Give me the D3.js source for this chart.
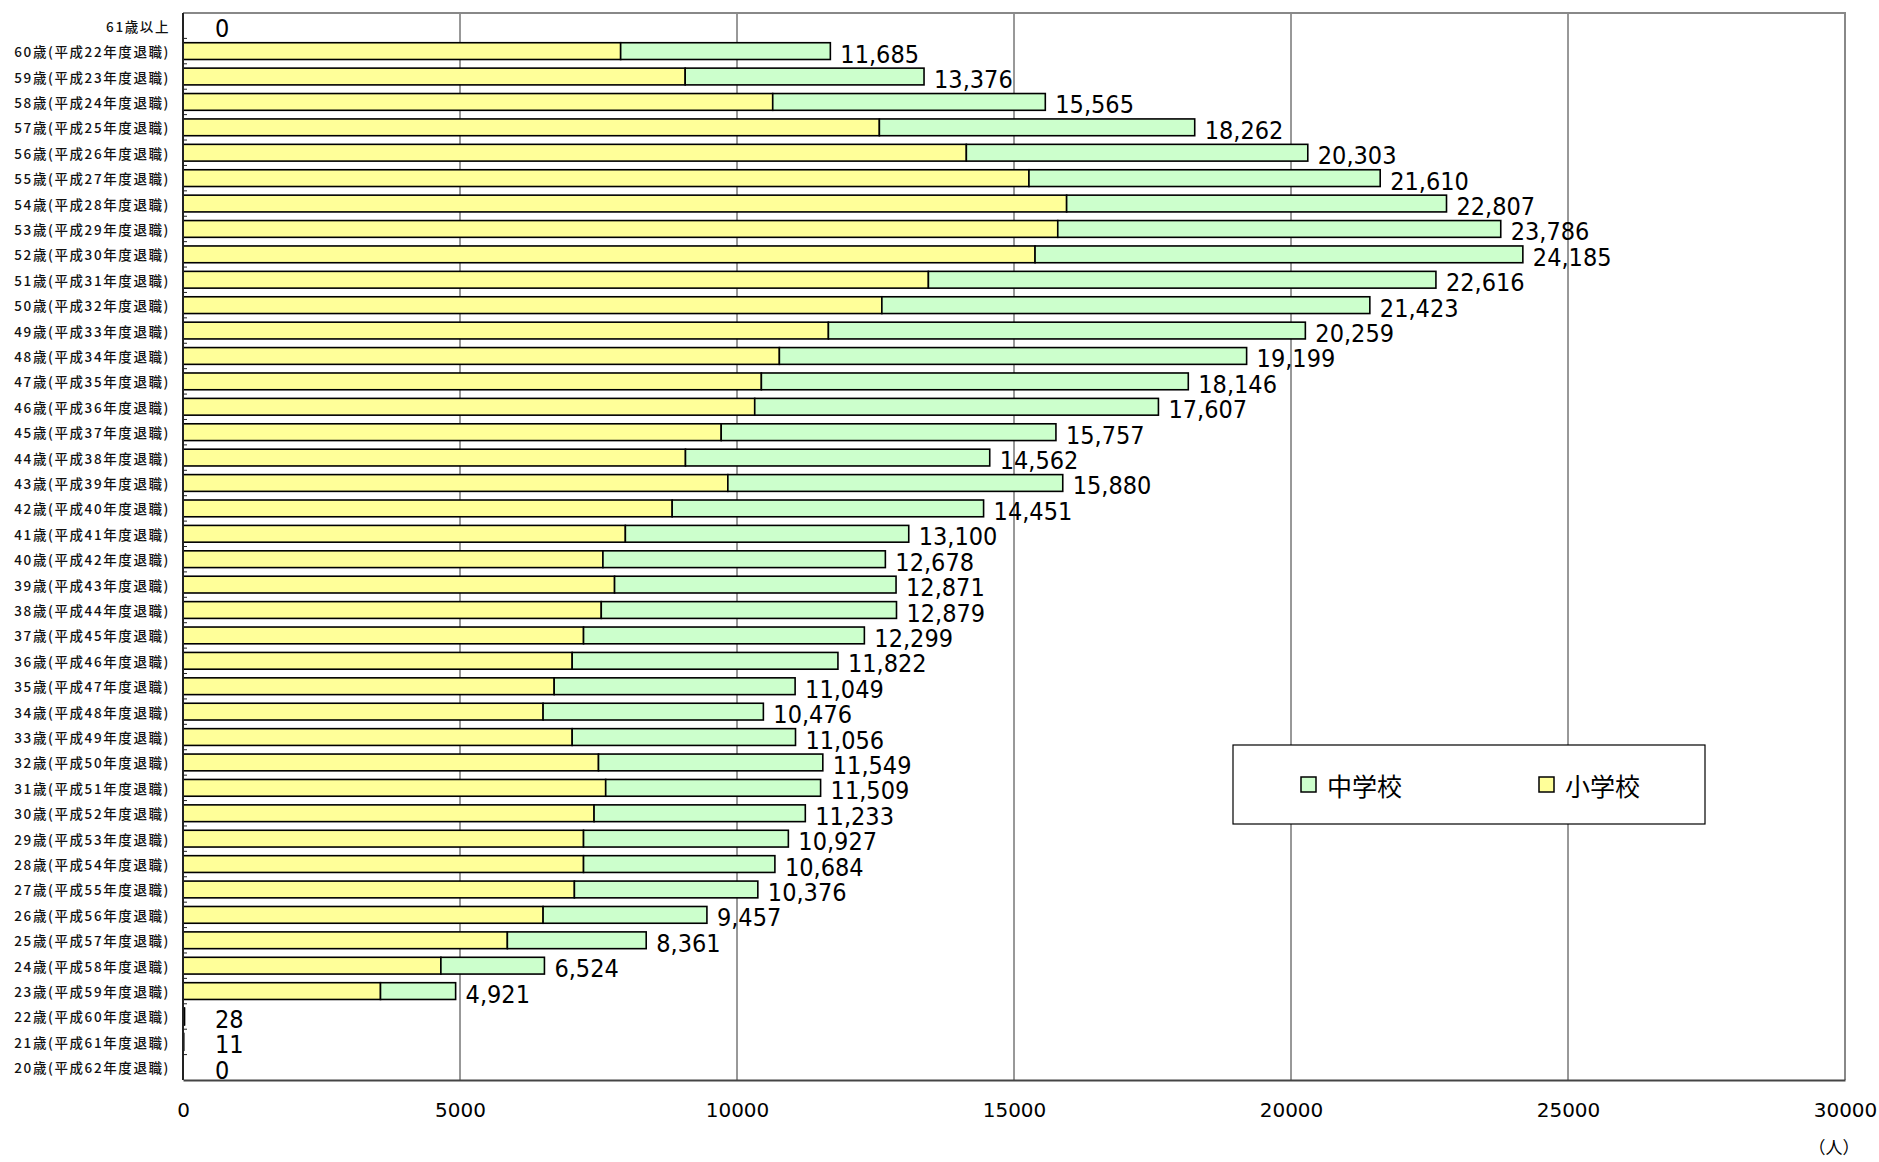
<!DOCTYPE html>
<html>
<head>
<meta charset="utf-8">
<script src="https://cdn.jsdelivr.net/npm/d3@7"></script>
<style>
  body { margin: 0; background: #fff; }
  svg { display: block; }
</style>
</head>
<body>
<svg id="chart"></svg>
<script>
// categories, top to bottom
const categories = [
  "61歳以上",
  "60歳(平成22年度退職)", "59歳(平成23年度退職)", "58歳(平成24年度退職)", "57歳(平成25年度退職)",
  "56歳(平成26年度退職)", "55歳(平成27年度退職)", "54歳(平成28年度退職)", "53歳(平成29年度退職)",
  "52歳(平成30年度退職)", "51歳(平成31年度退職)", "50歳(平成32年度退職)", "49歳(平成33年度退職)",
  "48歳(平成34年度退職)", "47歳(平成35年度退職)", "46歳(平成36年度退職)", "45歳(平成37年度退職)",
  "44歳(平成38年度退職)", "43歳(平成39年度退職)", "42歳(平成40年度退職)", "41歳(平成41年度退職)",
  "40歳(平成42年度退職)", "39歳(平成43年度退職)", "38歳(平成44年度退職)", "37歳(平成45年度退職)",
  "36歳(平成46年度退職)", "35歳(平成47年度退職)", "34歳(平成48年度退職)", "33歳(平成49年度退職)",
  "32歳(平成50年度退職)", "31歳(平成51年度退職)", "30歳(平成52年度退職)", "29歳(平成53年度退職)",
  "28歳(平成54年度退職)", "27歳(平成55年度退職)", "26歳(平成56年度退職)", "25歳(平成57年度退職)",
  "24歳(平成58年度退職)", "23歳(平成59年度退職)", "22歳(平成60年度退職)", "21歳(平成61年度退職)",
  "20歳(平成62年度退職)"
];

// 小学校
const elementary = [
  0, 7900, 9065, 10645, 12570, 14140, 15270, 15950, 15790, 15380, 13455,
  12615, 11650, 10765, 10440, 10320, 9715, 9070, 9835, 8830, 7985,
  7580, 7790, 7550, 7230, 7025, 6700, 6500, 7025, 7500, 7630,
  7420, 7230, 7230, 7065, 6500, 5855, 4655, 3565, 20, 8, 0
];

// 中学校
const juniorHigh = [
  0, 3785, 4311, 4920, 5692, 6163, 6340, 6857, 7996, 8805, 9161,
  8808, 8609, 8434, 7706, 7287, 6042, 5492, 6045, 5621, 5115,
  5098, 5081, 5329, 5069, 4797, 4349, 3976, 4031, 4049, 3879,
  3813, 3697, 3454, 3311, 2957, 2506, 1869, 1356, 8, 3, 0
];

// totals as printed
const totals = [
  0, 11685, 13376, 15565, 18262, 20303, 21610, 22807, 23786, 24185, 22616,
  21423, 20259, 19199, 18146, 17607, 15757, 14562, 15880, 14451, 13100,
  12678, 12871, 12879, 12299, 11822, 11049, 10476, 11056, 11549, 11509,
  11233, 10927, 10684, 10376, 9457, 8361, 6524, 4921, 28, 11, 0
];

const xTicks = [0, 5000, 10000, 15000, 20000, 25000, 30000];

const series = [
  { key: "小学校", values: elementary, color: "#ffff99" },
  { key: "中学校", values: juniorHigh, color: "#ccffcc" }
];

const width = 1879, height = 1162;
const plotLeft = 183, plotRight = 1845, plotTop = 13, plotBottom = 1080;

const svg = d3.select("#chart")
  .attr("width", width)
  .attr("height", height);

const x = d3.scaleLinear().domain([0, 30000]).range([plotLeft, plotRight]);
const y = d3.scaleBand()
  .domain(categories)
  .range([plotTop, plotBottom])
  .paddingInner(0.34)
  .paddingOuter(0.17);

// vertical gridlines
svg.append("g")
  .selectAll("line")
  .data(xTicks.slice(1, -1))
  .join("line")
  .attr("x1", d => x(d)).attr("x2", d => x(d))
  .attr("y1", plotTop).attr("y2", plotBottom)
  .attr("stroke", "#333")
  .attr("stroke-width", 1);

// plot frame (top / right gray)
svg.append("path")
  .attr("d", `M${plotLeft},${plotTop}H${plotRight}V${plotBottom}`)
  .attr("fill", "none")
  .attr("stroke", "#888")
  .attr("stroke-width", 2);

// stacked bars
const rows = categories.map((c, i) => ({ cat: c, i: i }));
let offsets = categories.map(() => 0);
series.forEach(s => {
  const g = svg.append("g");
  rows.forEach(r => {
    const v = s.values[r.i];
    const x0 = offsets[r.i];
    offsets[r.i] += v;
    if (v <= 0) return;
    g.append("rect")
      .attr("x", x(x0))
      .attr("y", y(r.cat))
      .attr("width", x(x0 + v) - x(x0))
      .attr("height", y.bandwidth())
      .attr("fill", s.color)
      .attr("stroke", "#000")
      .attr("stroke-width", 1.6);
  });
});

// total labels (tiny bars get their label pushed a bit off the axis)
svg.append("g")
  .selectAll("text")
  .data(rows)
  .join("text")
  .attr("x", d => Math.max(x(totals[d.i]) + 10, plotLeft + 32))
  .attr("y", d => y(d.cat) + y.bandwidth() / 2 + 3)
  .attr("dominant-baseline", "central")
  .attr("font-family", "'DejaVu Sans Condensed', 'DejaVu Sans', sans-serif")
  .attr("font-size", 25)
  .attr("fill", "#000")
  .text(d => d3.format(",")(totals[d.i]));

// y axis line and small category ticks
svg.append("line")
  .attr("x1", plotLeft).attr("x2", plotLeft)
  .attr("y1", plotTop).attr("y2", plotBottom)
  .attr("stroke", "#222").attr("stroke-width", 2);

svg.append("g")
  .selectAll("line")
  .data(d3.range(1, categories.length))
  .join("line")
  .attr("x1", plotLeft).attr("x2", plotLeft + 4)
  .attr("y1", d => plotTop + d * y.step())
  .attr("y2", d => plotTop + d * y.step())
  .attr("stroke", "#222").attr("stroke-width", 1);

// category labels
svg.append("g")
  .selectAll("text")
  .data(categories)
  .join("text")
  .attr("x", 170)
  .attr("y", d => y(d) + y.bandwidth() / 2)
  .attr("text-anchor", "end")
  .attr("dominant-baseline", "central")
  .attr("font-family", "'Noto Sans CJK JP', sans-serif")
  .attr("font-size", 13.5)
  .attr("font-weight", 500)
  .attr("letter-spacing", 1.6)
  .attr("fill", "#111")
  .text(d => d);

// x axis
const xAxis = svg.append("g")
  .attr("transform", `translate(0,${plotBottom})`)
  .call(d3.axisBottom(x).tickValues(xTicks).tickSize(0).tickPadding(23).tickFormat(d3.format("d")));
xAxis.select(".domain").attr("stroke", "#444").attr("stroke-width", 2);
xAxis.selectAll("text")
  .attr("font-family", "'DejaVu Sans', sans-serif")
  .attr("font-size", 20)
  .attr("fill", "#000");

svg.append("text")
  .attr("x", 1834)
  .attr("y", 1146)
  .attr("text-anchor", "middle")
  .attr("dominant-baseline", "central")
  .attr("font-family", "'Noto Sans CJK JP', sans-serif")
  .attr("font-size", 17)
  .text("（人）");

// legend
const legend = svg.append("g");
legend.append("rect")
  .attr("x", 1233).attr("y", 745)
  .attr("width", 472).attr("height", 79)
  .attr("fill", "#fff")
  .attr("stroke", "#000")
  .attr("stroke-width", 1.2);

const legendItems = [series[1], series[0]];
legend.selectAll("g.item")
  .data(legendItems)
  .join("g")
  .attr("class", "item")
  .attr("transform", (d, i) => `translate(${1301 + i * 238},785)`)
  .each(function(d) {
    const g = d3.select(this);
    g.append("rect")
      .attr("x", 0).attr("y", -8)
      .attr("width", 15).attr("height", 15)
      .attr("fill", d.color)
      .attr("stroke", "#000")
      .attr("stroke-width", 1.5);
    g.append("text")
      .attr("x", 26).attr("y", 0)
      .attr("dominant-baseline", "central")
      .attr("font-family", "'Noto Sans CJK JP', sans-serif")
      .attr("font-size", 25)
      .attr("fill", "#000")
      .text(d.key);
  });
</script>
</body>
</html>
